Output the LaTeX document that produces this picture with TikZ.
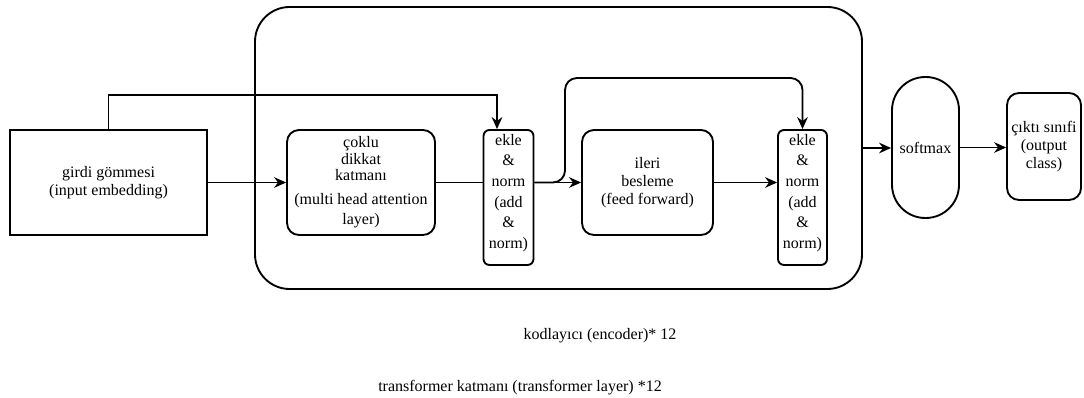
\documentclass[tikz,border=0pt]{standalone}
\usepackage{fontspec}
\setmainfont{Liberation Serif}
\usepackage{tikz}
\usetikzlibrary{arrows.meta, positioning, calc}

\begin{document}
\begin{tikzpicture}[x=0.75pt, y=-0.75pt,
    every node/.style={font=\rmfamily\fontsize{12}{13.5}\selectfont},
    box/.style={draw, line width=1.4pt, align=center, inner sep=1pt},
    rbox/.style={box, rounded corners=9pt},
    addbox/.style={box, rounded corners=4.5pt, minimum width=37.5pt, minimum height=101.25pt,
      font=\rmfamily\fontsize{12}{15.5}\selectfont},
    arr/.style={line width=1.4pt, -{Stealth[length=9pt, width=8pt, inset=3pt]}},
    ln/.style={line width=1.4pt}]
  \useasboundingbox (0,0) rectangle (1084,398);

  % codeur
  \node[box, rounded corners=26pt, minimum width=455.25pt, minimum height=211.5pt] (enc) at (558.5,148) {};

  % blocs
  \node[box, minimum width=147.75pt, minimum height=78.75pt] (embed) at (108.5,182.5)
    {girdi gömmesi\\(input embedding)};
  \node[rbox, minimum width=111pt, minimum height=78.75pt, font=\rmfamily\fontsize{12}{12.5}\selectfont] (attn) at (361,182.5)
    {çoklu\\dikkat\\katmanı\\[5pt](multi head attention\\[3pt]layer)};
  \node[addbox] (add1) at (508.5,197.5) {ekle\\\&\\norm\\(add\\\&\\norm)\\[-6pt]};
  \node[rbox, minimum width=98.25pt, minimum height=78.75pt] (ff) at (647.5,182.5)
    {ileri\\besleme\\(feed forward)};
  \node[addbox, minimum width=36.75pt] (add2) at (802.5,197.5) {ekle\\\&\\norm\\(add\\\&\\norm)\\[-6pt]};
  \node[box, rounded corners=25pt, minimum width=50.25pt, minimum height=105.75pt] (soft) at (925.5,147.5) {softmax};
  \node[rbox, minimum width=55.5pt, minimum height=80.25pt] (out) at (1044,146.5)
    {çıktı sınıfi\\(output\\class)};

  % textes du bas
  \node (lblenc) at (600,336) {kodlayıcı (encoder)* 12};
  \node (lbltr) at (520,388) {transformer katmanı (transformer layer) *12};

  % liaisons
  \coordinate (skipA) at (497,95);
  \coordinate (skipB) at (565,78);
  \draw[arr] (embed.east) -- (attn.west);
  \draw[arr] (embed.north) |- (skipA) -- (skipA |- add1.north);
  \draw[ln] (attn.east) -- (attn.east -| add1.west);
  \draw[arr] (ff.west -| add1.east) -- (ff.west);
  \draw[arr, rounded corners=9pt] (ff.west -| add1.east) -| (skipB) -| (add2.north);
  \draw[arr] (ff.east) -- (ff.east -| add2.west);
  \draw[arr] (enc.east) -- (enc.east -| soft.west);
  \draw[arr] (soft.east) -- (soft.east -| out.west);
\end{tikzpicture}
\end{document}
